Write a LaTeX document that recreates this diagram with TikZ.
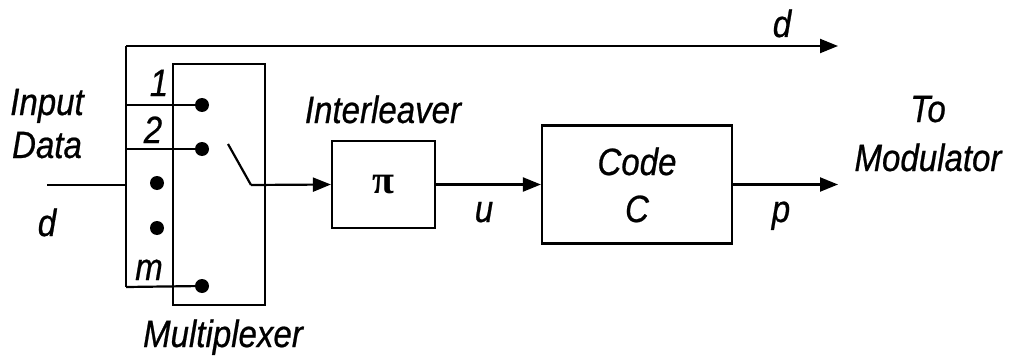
\documentclass[tikz,border=0pt]{standalone}
\usepackage{fontspec}
\setmainfont{Liberation Sans}[FakeStretch=0.87,ItalicFeatures={FakeBold=0.6}]
\newfontfamily\pifont{Liberation Serif}
\usetikzlibrary{arrows.meta}
\begin{document}
\begin{tikzpicture}[x=1pt,y=-1pt,
  line width=2.2pt,
  every node/.style={font=\fontsize{38}{40}\selectfont\itshape},
  blk/.style={draw,rectangle,line width=2.2pt,inner sep=0pt},
  dotnode/.style={circle,fill=black,inner sep=0pt,minimum size=14pt},
  lbl/.style={inner sep=0pt,anchor=base},
  arr/.style={-{Triangle[length=18pt,width=14pt]}}]
\useasboundingbox (0,0) rectangle (1015,361);

% blocks
\node[blk,minimum width=103pt,minimum height=87pt] (intl) at (383.5,184.5) {\fontsize{40}{42}\pifont\bfseries\upshape π};
\node[blk,minimum width=92pt,minimum height=241pt] (mux) at (219,184.5) {};
\node[blk,minimum width=190pt,minimum height=118pt] (code) at (637,184.5) {};

% multiplexer contacts
\node[dotnode] (c1) at (202,105) {};
\node[dotnode] (c2) at (202,149) {};
\node[dotnode] (cm) at (202,286) {};
\node[dotnode] (e1) at (157,183) {};
\node[dotnode] (e2) at (157,228) {};

% bus and terminals
\coordinate (btop) at (126,46);
\coordinate (bbot) at (126,287);
\coordinate (bin) at (126,185);
\coordinate (src) at (47,185);
\coordinate (dout) at (838,46);
\coordinate (pout) at (838,184.5);
\coordinate (pivot) at (251,185);
\coordinate (blade) at (228,144);

\draw (src) -- (bin);
\draw (bbot) -- (btop);
\draw[arr] (btop) -- (dout);
\draw (126,105) -- (c1.center);
\draw (126,149) -- (c2.center);
\draw (bbot) -- (cm.center);

% switch and signal path
\draw (blade) -- (pivot);
\draw[arr] (pivot) -- (intl.west);
\draw[arr] (intl.east) -- (code.west |- intl.east);
\draw[arr] (code.east |- pout) -- (pout);

% labels
\node[lbl] (tIn) at (47,115) {Input};
\node[lbl] (tData) at (47,158) {Data};
\node[lbl] (tdin) at (47,236) {d};
\node[lbl] (t1) at (159,96) {1};
\node[lbl] (t2) at (153,143) {2};
\node[lbl] (tm) at (149,280) {m};
\node[lbl] (tMux) at (223,347) {Multiplexer};
\node[lbl] (tIntl) at (383,123) {Interleaver};
\node[lbl] (tu) at (484,222) {u};
\node[lbl] (tCode) at (637,175) {Code};
\node[lbl] (tC) at (637,222) {C};
\node[lbl] (tdtop) at (782,37) {d};
\node[lbl] (tp) at (781,222) {p};
\node[lbl] (tTo) at (928,122) {To};
\node[lbl] (tMod) at (928,171) {Modulator};
\end{tikzpicture}
\end{document}
